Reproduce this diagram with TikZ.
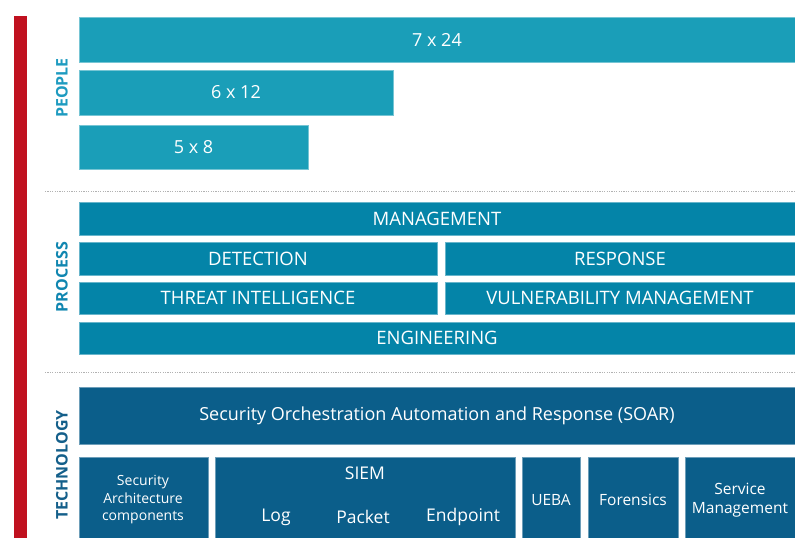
\documentclass[tikz,border=0pt]{standalone}
\usepackage{fontspec}
\setmainfont{Open Sans}
\definecolor{peoplefill}{RGB}{26,158,184}
\definecolor{procfill}{RGB}{4,132,168}
\definecolor{techfill}{RGB}{11,94,138}
\definecolor{redbar}{RGB}{192,17,31}
\definecolor{peoplelbl}{RGB}{30,155,192}
\definecolor{proclbl}{RGB}{16,134,176}
\definecolor{techlbl}{RGB}{20,95,138}
\tikzset{
  basebox/.style={anchor=north west, inner sep=0pt, outer sep=0pt, text=white, align=center},
  pbox/.style={basebox, fill=peoplefill, draw=peoplefill!60!white, line width=0.6pt, font=\fontsize{18}{21}\selectfont},
  rbox/.style={basebox, fill=procfill, draw=procfill!60!white, line width=0.6pt, font=\fontsize{18.5}{21}\selectfont},
  tbox/.style={basebox, fill=techfill, draw=techfill!60!white, line width=0.6pt, font=\fontsize{14}{17}\selectfont},
  sidelbl/.style={rotate=90, font=\bfseries\fontsize{16}{18}\selectfont},
  sep/.style={draw=gray!60, dash pattern=on 1.2pt off 1.2pt, line width=0.6pt},
  plain/.style={text=white, inner sep=0pt, font=\fontsize{17.5}{20}\selectfont}
}
\begin{document}
\begin{tikzpicture}[x=1pt,y=-1pt]
\useasboundingbox (0,0) rectangle (795,538);
\clip (0,0) rectangle (795,538);
\fill[redbar] (14,16) rectangle (27,540);
% labels
\node[sidelbl, text=peoplelbl] (lp) at (62,88) {PEOPLE};
\node[sidelbl, text=proclbl] (lr) at (62,277) {PROCESS};
\node[sidelbl, text=techlbl] (lt) at (62,465) {TECHNOLOGY};
% people
\node[pbox, minimum width=716, minimum height=45] (p1) at (79,17) {7 x 24};
\node[pbox, minimum width=314, minimum height=45] (p2) at (79,70) {6 x 12};
\node[pbox, minimum width=229, minimum height=44] (p3) at (79,125) {5 x 8};
\coordinate (s1a) at (45,191);
\coordinate (s1b) at (795,191);
\draw[sep] (s1a) -- (s1b);
% process
\node[rbox, minimum width=716, minimum height=33] (mg) at (79,202) {MANAGEMENT};
\node[rbox, minimum width=358, minimum height=33] (det) at (79,242) {DETECTION};
\node[rbox, minimum width=350, minimum height=33] (rsp) at (445,242) {RESPONSE};
\node[rbox, minimum width=358, minimum height=32] (ti) at (79,282) {THREAT INTELLIGENCE};
\node[rbox, minimum width=350, minimum height=32] (vm) at (445,282) {VULNERABILITY MANAGEMENT};
\node[rbox, minimum width=716, minimum height=32] (eng) at (79,322) {ENGINEERING};
\coordinate (s2a) at (45,372);
\coordinate (s2b) at (795,372);
\draw[sep] (s2a) -- (s2b);
% technology
\node[tbox, minimum width=716, minimum height=57, font=\fontsize{18}{21}\selectfont] (soar) at (79,387) {Security Orchestration Automation and Response (SOAR)};
\node[tbox, minimum width=129, minimum height=86] (sa) at (79,457) {};
\node[text=white, align=center, inner sep=0pt, font=\fontsize{14}{17.5}\selectfont] (sat) at (143,500) {Security\\Architecture\\components};
\node[tbox, minimum width=300, minimum height=86] (siem) at (215,457) {};
\node[plain] (siemt) at (365,473) {SIEM};
\node[plain] (log) at (276,517) {Log};
\node[plain] (pkt) at (363,517) {Packet};
\node[plain] (ep) at (463,517) {Endpoint};
\node[tbox, minimum width=58, minimum height=86] (ueba) at (522,457) {};
\node[text=white, inner sep=0pt, font=\fontsize{15.5}{18}\selectfont] (uebat) at (551,500) {UEBA};
\node[tbox, minimum width=90, minimum height=86] (for) at (588,457) {};
\node[text=white, inner sep=0pt, font=\fontsize{15.5}{18}\selectfont] (fort) at (633,500) {Forensics};
\node[tbox, minimum width=112, minimum height=86] (sm) at (685,457) {};
\node[text=white, align=center, inner sep=0pt, font=\fontsize{15.5}{19}\selectfont] (smt) at (740,500) {Service\\Management};
\end{tikzpicture}
\end{document}
